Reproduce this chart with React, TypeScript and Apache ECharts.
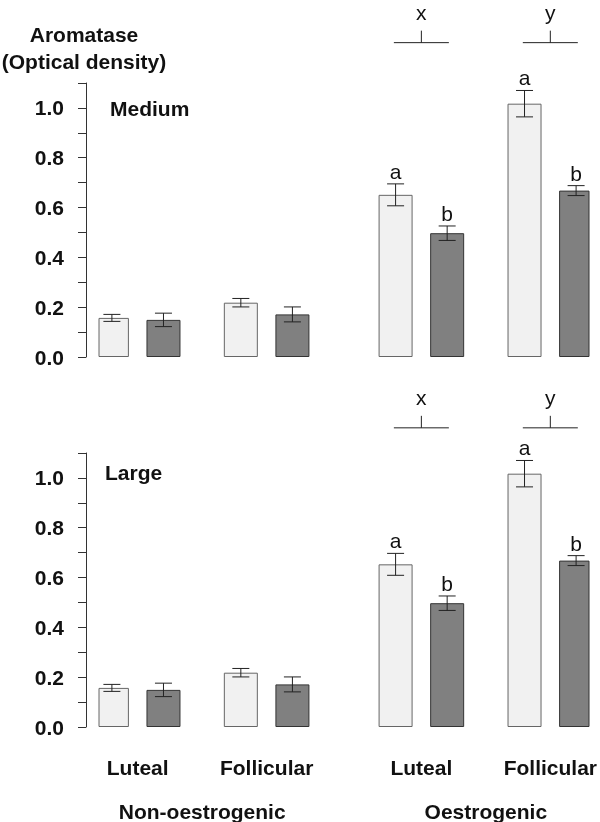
import React, { useEffect, useRef } from 'react';
import * as echarts from 'echarts';

// ---------- data ----------
const phases = ['Luteal', 'Follicular', 'Luteal', 'Follicular'];
const groups = ['Non-oestrogenic', 'Oestrogenic'];
const panels = ['Medium', 'Large'];
const yTickLabels = ['0.0', '0.2', '0.4', '0.6', '0.8', '1.0'];

const mediumLight = [0.157, 0.218, 0.651, 1.017];
const mediumLightErr = [0.014, 0.017, 0.044, 0.053];
const mediumDark = [0.149, 0.171, 0.497, 0.668];
const mediumDarkErr = [0.027, 0.030, 0.029, 0.020];

const largeLight = [0.157, 0.218, 0.653, 1.017];
const largeLightErr = [0.014, 0.017, 0.044, 0.053];
const largeDark = [0.149, 0.171, 0.497, 0.668];
const largeDarkErr = [0.027, 0.030, 0.029, 0.020];

const lettersLight = ['', '', 'a', 'a'];
const lettersDark = ['', '', 'b', 'b'];
const groupLetters = ['', '', 'x', 'y'];

// ---------- layout ----------
const FONT = '"Liberation Sans", Arial, sans-serif';
const SLOT_START = [0, 5, 11, 16]; // light bar slot, centre slot = +1, dark bar slot = +2
const N_SLOTS = 19;
const GROUP_PHASES = [[0, 1], [2, 3]];
const BRACKET_LEVEL = [1.262, 1.201];
const GRID_TOP = [83, 453];
const GRID_H = 274;

const slots = Array.from({ length: N_SLOTS }, (_, i) => 's' + i);
const slotLabel: string[] = Array(N_SLOTS).fill('');
phases.forEach((p, i) => { slotLabel[SLOT_START[i] + 1] = p; });

function barSeries(values: number[], gi: number, fill: string, border: string, offset: number) {
  return {
    type: 'bar', xAxisIndex: gi, yAxisIndex: gi,
    barWidth: 34, barGap: '-100%',
    itemStyle: { color: fill, borderColor: border, borderWidth: 1 },
    data: values.map((v, i) => [SLOT_START[i] + offset, v]),
    z: 2,
  };
}

function errSeries(values: number[], errs: number[], letters: string[], gi: number, offset: number) {
  return {
    type: 'custom', xAxisIndex: gi, yAxisIndex: gi, clip: false, z: 3,
    data: values.map((v, i) => [SLOT_START[i] + offset, v, errs[i]]),
    renderItem: (params: any, api: any) => {
      const x = api.value(0), v = api.value(1), e = api.value(2);
      const t = api.coord([x, v + e]);
      const b = api.coord([x, v - e]);
      const hw = 8.5;
      const st = { stroke: '#222', lineWidth: 1 };
      const children: any[] = [
        { type: 'line', shape: { x1: t[0], y1: t[1], x2: b[0], y2: b[1] }, style: st },
        { type: 'line', shape: { x1: t[0] - hw, y1: t[1], x2: t[0] + hw, y2: t[1] }, style: st },
        { type: 'line', shape: { x1: b[0] - hw, y1: b[1], x2: b[0] + hw, y2: b[1] }, style: st },
      ];
      const letter = letters[params.dataIndex];
      if (letter) {
        children.push({
          type: 'text', x: t[0], y: t[1] - 2,
          style: { text: letter, fill: '#111', font: `21px ${FONT}`, align: 'center', verticalAlign: 'bottom' },
        });
      }
      return { type: 'group', children };
    },
  };
}

function bracketSeries(gi: number) {
  const items = groupLetters
    .map((l, i) => ({ l, slot: SLOT_START[i] + 1 }))
    .filter((d) => d.l);
  return {
    type: 'custom', xAxisIndex: gi, yAxisIndex: gi, clip: false, z: 3,
    data: items.map((d) => [d.slot, BRACKET_LEVEL[gi]]),
    renderItem: (params: any, api: any) => {
      const p = api.coord([api.value(0), api.value(1)]);
      const st = { stroke: '#222', lineWidth: 1 };
      return {
        type: 'group',
        children: [
          { type: 'line', shape: { x1: p[0] - 27.5, y1: p[1], x2: p[0] + 27.5, y2: p[1] }, style: st },
          { type: 'line', shape: { x1: p[0], y1: p[1], x2: p[0], y2: p[1] - 12 }, style: st },
          {
            type: 'text', x: p[0], y: p[1] - 20,
            style: { text: items[params.dataIndex].l, fill: '#111', font: `21px ${FONT}`, align: 'center', verticalAlign: 'bottom' },
          },
        ],
      };
    },
  };
}

export default function App() {
  const ref = useRef<HTMLDivElement>(null);
  useEffect(() => {
    if (!ref.current) return;
    const chart = echarts.init(ref.current, null, { renderer: 'svg' });
    const grids = GRID_TOP.map((top) => ({ left: 99, right: 11, top, height: GRID_H }));
    const xAxes = GRID_TOP.map((_, gi) => ({
      type: 'category', gridIndex: gi, data: slots,
      axisLine: { show: false }, axisTick: { show: false },
      axisLabel: {
        show: gi === 1, interval: 0, margin: 30,
        formatter: (_v: string, idx: number) => slotLabel[idx],
        color: '#111', fontFamily: FONT, fontWeight: 'bold', fontSize: 21,
      },
      splitLine: { show: false },
    }));
    const yAxes = GRID_TOP.map((_, gi) => ({
      type: 'value', gridIndex: gi, min: 0, max: 1.1, interval: 0.1, offset: 13,
      axisLine: { show: true, lineStyle: { color: '#333', width: 1 } },
      axisTick: { show: true, length: 8, lineStyle: { color: '#333', width: 1 } },
      splitLine: { show: false },
      axisLabel: {
        margin: 22, color: '#111', fontFamily: FONT, fontWeight: 'bold', fontSize: 21,
        formatter: (v: number) => {
          const k = Math.round(v * 10);
          return k % 2 === 0 ? (yTickLabels[k / 2] ?? '') : '';
        },
      },
    }));
    const data = [
      [mediumLight, mediumLightErr, mediumDark, mediumDarkErr],
      [largeLight, largeLightErr, largeDark, largeDarkErr],
    ];
    const series: any[] = [];
    data.forEach(([l, le, d, de], gi) => {
      series.push(barSeries(l, gi, '#f1f1f1', '#666', 0));
      series.push(barSeries(d, gi, '#808080', '#333', 2));
      series.push(errSeries(l, le, lettersLight, gi, 0));
      series.push(errSeries(d, de, lettersDark, gi, 2));
      series.push(bracketSeries(gi));
    });
    chart.setOption({
      animation: false,
      grid: grids, xAxis: xAxes, yAxis: yAxes, series,
    });
    const groupText = groups.map((g, k) => {
      const [a, b] = GROUP_PHASES[k];
      const pa = chart.convertToPixel({ gridIndex: 1 }, [SLOT_START[a] + 1, 0]) as number[];
      const pb = chart.convertToPixel({ gridIndex: 1 }, [SLOT_START[b] + 1, 0]) as number[];
      return {
        type: 'text', x: (pa[0] + pb[0]) / 2, y: 811,
        style: { text: g, fill: '#111', font: `bold 21px ${FONT}`, align: 'center', verticalAlign: 'middle' },
      };
    });
    chart.setOption({
      graphic: [
        {
          type: 'text', x: 84, y: 48,
          style: { text: 'Aromatase\n(Optical density)', fill: '#111', font: `bold 21px ${FONT}`, align: 'center', verticalAlign: 'middle', lineHeight: 27 },
        },
        { type: 'text', x: 110, y: 108, style: { text: panels[0], fill: '#111', font: `bold 21px ${FONT}`, verticalAlign: 'middle' } },
        { type: 'text', x: 105, y: 472, style: { text: panels[1], fill: '#111', font: `bold 21px ${FONT}`, verticalAlign: 'middle' } },
        ...groupText,
      ],
    });
    return () => chart.dispose();
  }, []);
  return <div ref={ref} style={{ position: 'fixed', left: 0, top: 0, width: 600, height: 822 }} />;
}
